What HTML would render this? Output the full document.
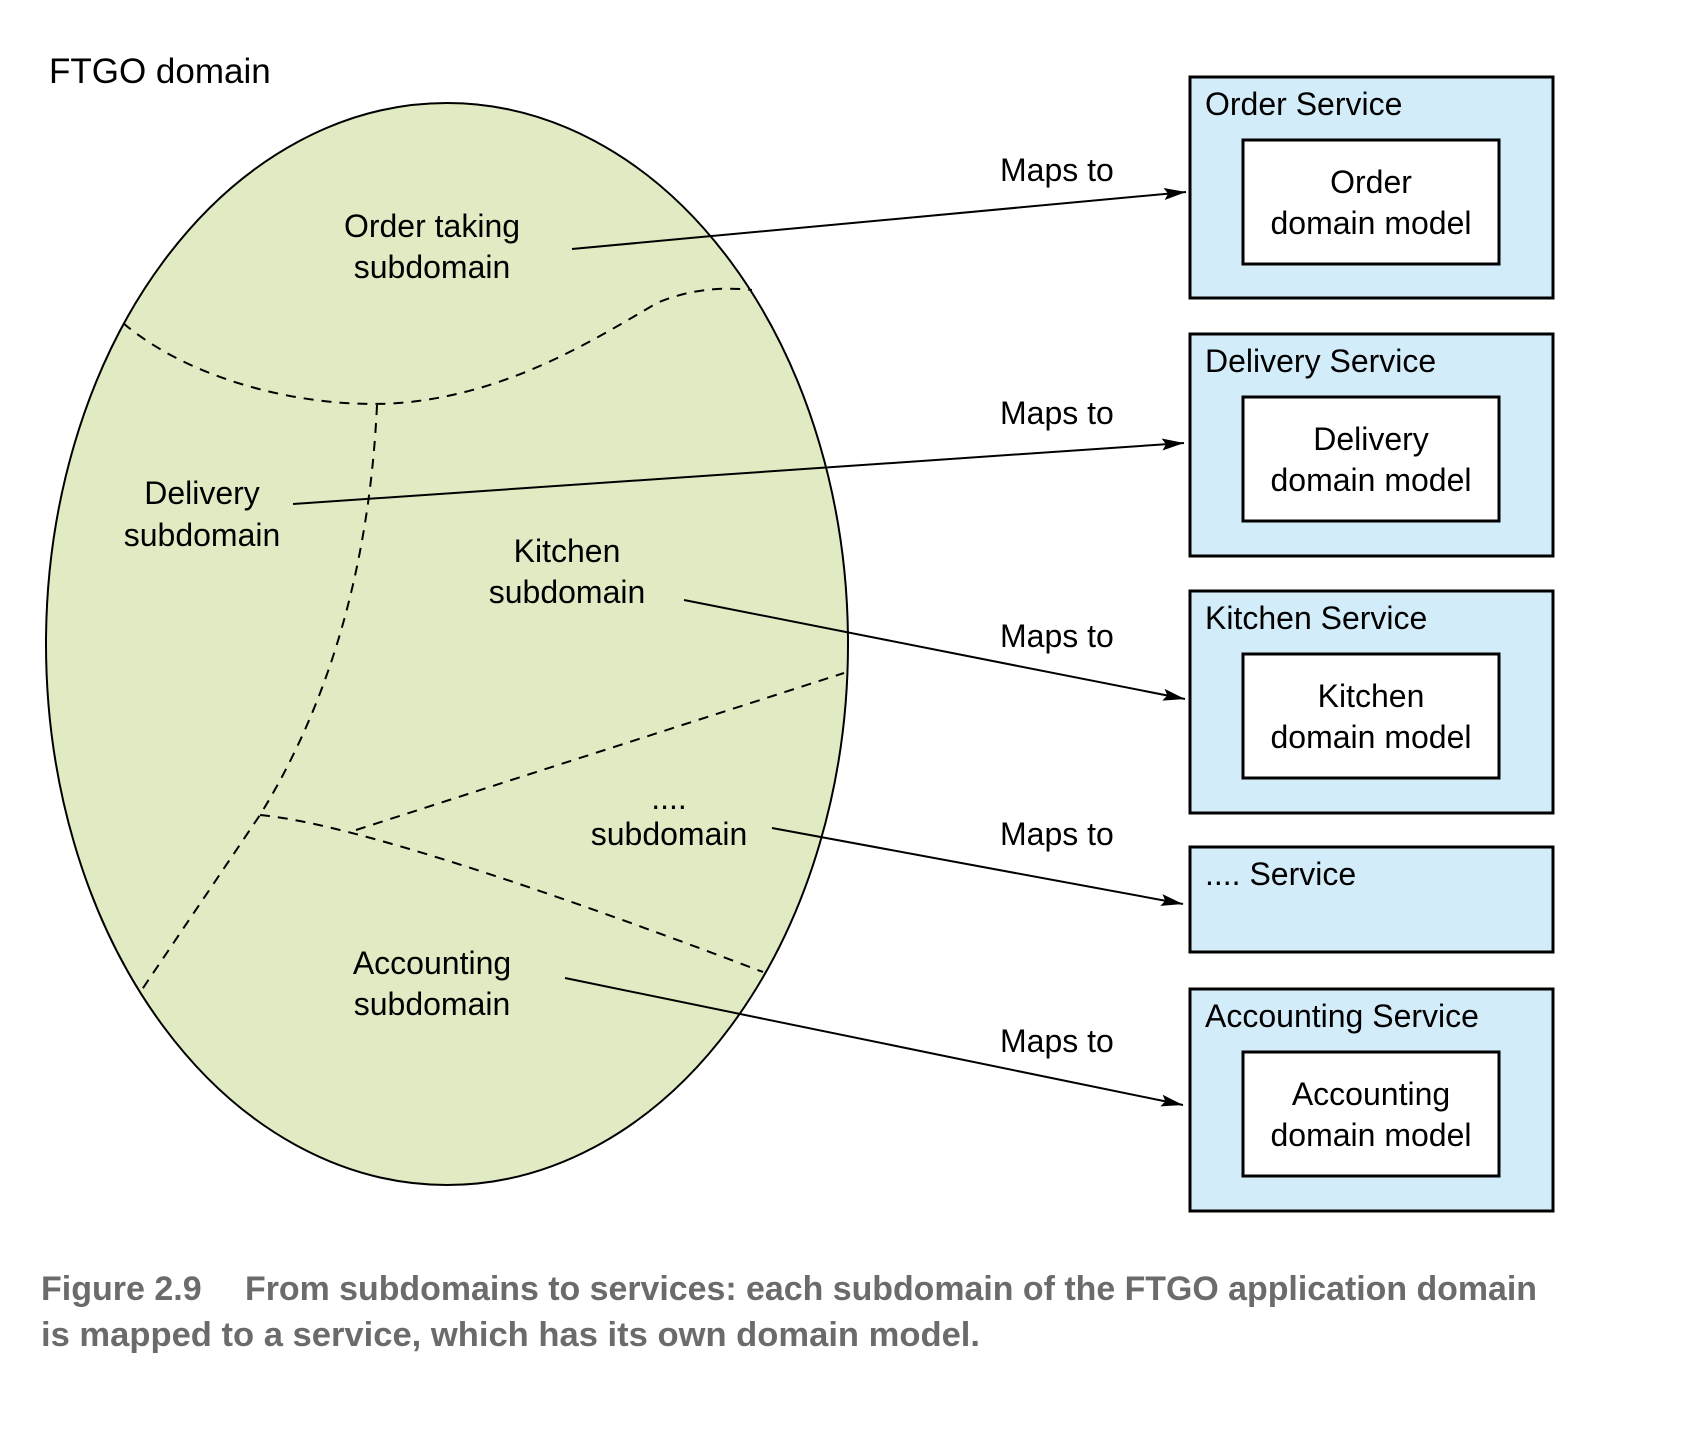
<!DOCTYPE html>
<html><head><meta charset="utf-8"><style>
html,body{margin:0;padding:0;background:#fff;}
svg{display:block;}
text{font-family:"Liberation Sans",sans-serif;fill:#000;}
</style></head><body>
<svg width="1708" height="1446" viewBox="0 0 1708 1446" xmlns="http://www.w3.org/2000/svg">
<defs>
<marker id="ah" markerWidth="22" markerHeight="12" refX="22" refY="6" orient="auto" markerUnits="userSpaceOnUse">
<path d="M0,0 L22,6 L0,12 L4,6 Z"/>
</marker>
</defs>
<text x="49" y="83" font-size="35">FTGO domain</text>
<ellipse cx="447" cy="644" rx="401" ry="541" fill="#e1ebc3" stroke="#000" stroke-width="2"/>
<g fill="none" stroke="#000" stroke-width="2" stroke-dasharray="10,8">
<path d="M123,323 C200,388 330,413 418,401 C518,388 597,338 657,303 C697,286 732,288 752,290"/>
<path d="M377,405 C370,557 333,697 260,815 L141,991"/>
<path d="M260,815 Q378,826 763,972"/>
<path d="M356,830 L844,673"/>
</g>
<g font-size="32" text-anchor="middle">
<text x="432" y="237">Order taking</text><text x="432" y="278">subdomain</text>
<text x="202" y="504">Delivery</text><text x="202" y="546">subdomain</text>
<text x="567" y="562">Kitchen</text><text x="567" y="603">subdomain</text>
<text x="669" y="809">....</text><text x="669" y="845">subdomain</text>
<text x="432" y="974">Accounting</text><text x="432" y="1015">subdomain</text>
</g>
<g stroke="#000" stroke-width="2" marker-end="url(#ah)">
<line x1="572" y1="249" x2="1186" y2="192"/>
<line x1="293" y1="504" x2="1184" y2="443"/>
<line x1="684" y1="600" x2="1185" y2="699"/>
<line x1="772" y1="828" x2="1183" y2="904"/>
<line x1="565" y1="978" x2="1183" y2="1105"/>
</g>
<g font-size="32">
<text x="1000" y="181">Maps to</text>
<text x="1000" y="424">Maps to</text>
<text x="1000" y="647">Maps to</text>
<text x="1000" y="845">Maps to</text>
<text x="1000" y="1052">Maps to</text>
</g>
<g fill="#d3ecf9" stroke="#000" stroke-width="3">
<rect x="1190" y="77" width="363" height="221"/>
<rect x="1190" y="334" width="363" height="222"/>
<rect x="1190" y="591" width="363" height="222"/>
<rect x="1190" y="847" width="363" height="105"/>
<rect x="1190" y="989" width="363" height="222"/>
</g>
<g fill="#fff" stroke="#000" stroke-width="3">
<rect x="1243" y="140" width="256" height="124"/>
<rect x="1243" y="397" width="256" height="124"/>
<rect x="1243" y="654" width="256" height="124"/>
<rect x="1243" y="1052" width="256" height="124"/>
</g>
<g font-size="32">
<text x="1205" y="115">Order Service</text>
<text x="1205" y="372">Delivery Service</text>
<text x="1205" y="629">Kitchen Service</text>
<text x="1205" y="885">.... Service</text>
<text x="1205" y="1027">Accounting Service</text>
</g>
<g font-size="32" text-anchor="middle">
<text x="1371" y="193">Order</text><text x="1371" y="234">domain model</text>
<text x="1371" y="450">Delivery</text><text x="1371" y="491">domain model</text>
<text x="1371" y="707">Kitchen</text><text x="1371" y="748">domain model</text>
<text x="1371" y="1105">Accounting</text><text x="1371" y="1146">domain model</text>
</g>
<g font-size="34" font-weight="bold">
<text x="41" y="1300" style="fill:#6b6b6b">Figure 2.9</text>
<text x="245" y="1300" textLength="1292" lengthAdjust="spacingAndGlyphs" style="fill:#6b6b6b">From subdomains to services: each subdomain of the FTGO application domain</text>
<text x="41" y="1346" textLength="939" lengthAdjust="spacingAndGlyphs" style="fill:#6b6b6b">is mapped to a service, which has its own domain model.</text>
</g>
</svg>
</body></html>
